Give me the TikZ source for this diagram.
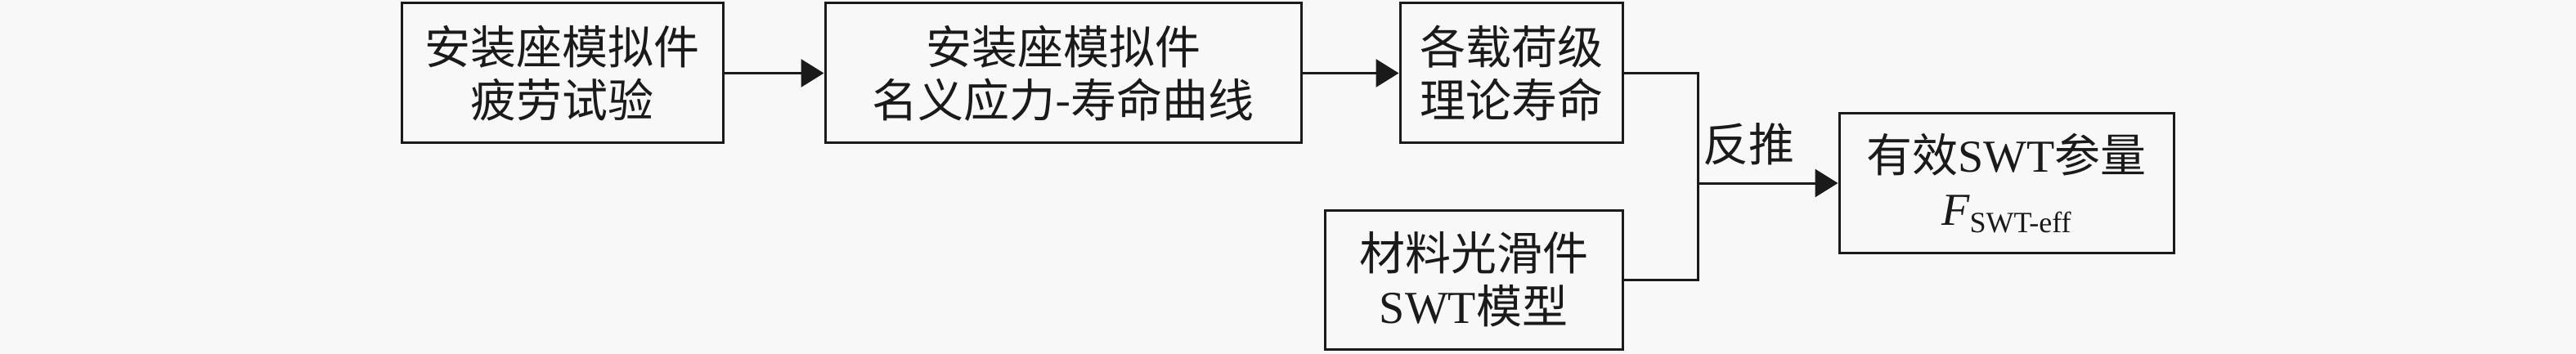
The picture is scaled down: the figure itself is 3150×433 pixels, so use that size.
\documentclass[tikz,border=0pt]{standalone}
\usepackage{fontspec}
\setmainfont{Liberation Serif}
\newfontfamily\cjk{Noto Sans CJK SC}
\usetikzlibrary{arrows.meta}
\definecolor{bgc}{HTML}{F8F8F8}
\definecolor{ink}{HTML}{1A1A1A}
\begin{document}
\begin{tikzpicture}[x=0.5pt,y=-0.5pt,
  box/.style={draw=ink,line width=1.5pt,inner sep=0pt,align=center,
    font=\fontsize{28}{32.5}\selectfont\cjk,text=ink},
  conn/.style={draw=ink,line width=1.5pt},
  arr/.style={conn,-{Triangle[length=14pt,width=17pt]}}]
\fill[bgc] (0,0) rectangle (3150,433);
\useasboundingbox (0,0) rectangle (3150,433);
\node[box,minimum width=196.5pt,minimum height=85.5pt] (b1) at (687.5,89.5) {安装座模拟件\\疲劳试验};
\node[box,minimum width=291pt,minimum height=85.5pt] (b2) at (1300,89.5) {安装座模拟件\\名义应力-寿命曲线};
\node[box,minimum width=136pt,minimum height=85.5pt] (b3) at (1848,89.5) {各载荷级\\理论寿命};
\node[box,minimum width=182pt,minimum height=85pt] (b4) at (1802,342) {材料光滑件\\{\rmfamily SWT}模型};
\node[box,minimum width=204.5pt,minimum height=85pt] (b5) at (2453.5,224) {有效{\rmfamily SWT}参量\\{\rmfamily\itshape F}{\rmfamily\raisebox{-0.35ex}{\fontsize{18}{18}\selectfont SWT-eff}}};
\coordinate (j) at (2076,224);
\node[font=\fontsize{28}{32.5}\selectfont\cjk,text=ink,inner sep=0pt] (lbl) at (2138,176) {反推};
\draw[arr] (b1.east) -- (b2.west);
\draw[arr] (b2.east) -- (b3.west);
\draw[conn] (b3.east) -| (j);
\draw[conn] (b4.east) -| (j);
\draw[arr] (j) -- (b5.west);
\end{tikzpicture}
\end{document}
